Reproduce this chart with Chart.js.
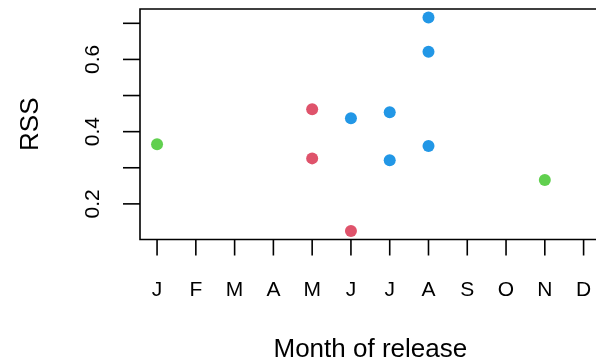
<!DOCTYPE html>
<html>
<head>
<meta charset="utf-8">
<script src="https://cdn.jsdelivr.net/npm/chart.js@4/dist/chart.umd.min.js"></script>
<style>
  html, body { margin: 0; padding: 0; background: #fff; overflow: hidden; }
  canvas { display: block; }
</style>
</head>
<body>
<canvas id="c" width="596" height="364"></canvas>
<script>
// Month labels for the x axis (1 = January ... 12 = December)
const months = ['J', 'F', 'M', 'A', 'M', 'J', 'J', 'A', 'S', 'O', 'N', 'D'];

// Release month and RSS for each group
const greenMonth = [1, 11];
const greenRSS   = [0.365, 0.266];
const redMonth   = [5, 5, 6];
const redRSS     = [0.462, 0.326, 0.125];
const blueMonth  = [6, 7, 7, 8, 8, 8];
const blueRSS    = [0.437, 0.454, 0.321, 0.716, 0.621, 0.360];

// Y axis ticks; only every other one carries a label
const yTicks  = [0.2, 0.3, 0.4, 0.5, 0.6, 0.7];
const yLabels = ['0.2', '', '0.4', '', '0.6', ''];

const toPoints = (xs, ys) => xs.map((x, i) => ({ x: x, y: ys[i] }));

// Y limits padded by 4% of the data range on each side
const allRSS = greenRSS.concat(redRSS, blueRSS);
const yMin = Math.min(...allRSS), yMax = Math.max(...allRSS);
const yPad = (yMax - yMin) * 0.04;
// X starts 4% of the month range before January; the view is cut just past December
const xPad = (months.length - 1) * 0.04;
const xMin = 1 - xPad;
const xMax = 12.32;

const FONT = '"Liberation Sans", Arial, Helvetica, sans-serif';

const axesPlugin = {
  id: 'baseAxes',
  afterDraw(chart) {
    const ctx = chart.ctx;
    const a = chart.chartArea;
    const xs = chart.scales.x, ys = chart.scales.y;
    ctx.save();
    ctx.strokeStyle = '#000';
    ctx.lineWidth = 1.6;
    // plot frame (its right side lies beyond the canvas)
    ctx.beginPath();
    ctx.moveTo(a.right + 2, a.top);
    ctx.lineTo(a.left, a.top);
    ctx.lineTo(a.left, a.bottom);
    ctx.lineTo(a.right + 2, a.bottom);
    ctx.stroke();

    // x ticks and month labels
    ctx.fillStyle = '#000';
    ctx.font = '21px ' + FONT;
    ctx.textAlign = 'center';
    ctx.textBaseline = 'middle';
    months.forEach((m, i) => {
      const px = xs.getPixelForValue(i + 1);
      ctx.beginPath();
      ctx.moveTo(px, a.bottom);
      ctx.lineTo(px, a.bottom + 16);
      ctx.stroke();
      ctx.fillText(m, px, 290);
    });

    // y ticks and rotated labels
    yTicks.forEach((v, i) => {
      const py = ys.getPixelForValue(v);
      ctx.beginPath();
      ctx.moveTo(a.left - 17, py);
      ctx.lineTo(a.left, py);
      ctx.stroke();
      if (yLabels[i]) {
        ctx.save();
        ctx.translate(93, py);
        ctx.rotate(-Math.PI / 2);
        ctx.fillText(yLabels[i], 0, 0);
        ctx.restore();
      }
    });

    // axis titles (x title centred on the full plot box)
    ctx.font = '26px ' + FONT;
    const boxRight = xs.getPixelForValue(months.length + xPad);
    ctx.fillText('Month of release', (a.left + boxRight) / 2, 350);
    ctx.save();
    ctx.translate(31, (a.top + a.bottom) / 2);
    ctx.rotate(-Math.PI / 2);
    ctx.fillText('RSS', 0, 0);
    ctx.restore();
    ctx.restore();
  }
};

new Chart(document.getElementById('c'), {
  type: 'scatter',
  data: {
    datasets: [
      { label: 'green', data: toPoints(greenMonth, greenRSS), backgroundColor: '#61D04F' },
      { label: 'red',   data: toPoints(redMonth, redRSS),     backgroundColor: '#DF536B' },
      { label: 'blue',  data: toPoints(blueMonth, blueRSS),   backgroundColor: '#2297E6' }
    ]
  },
  options: {
    responsive: false,
    animation: false,
    events: [],
    layout: { autoPadding: false, padding: { left: 140, top: 9, right: 0, bottom: 124.5 } },
    elements: { point: { radius: 6, borderWidth: 0, hoverRadius: 6 } },
    plugins: { legend: { display: false }, tooltip: { enabled: false } },
    scales: {
      x: { type: 'linear', display: false, min: xMin, max: xMax },
      y: { type: 'linear', display: false, min: yMin - yPad, max: yMax + yPad }
    }
  },
  plugins: [axesPlugin]
});
</script>
</body>
</html>
